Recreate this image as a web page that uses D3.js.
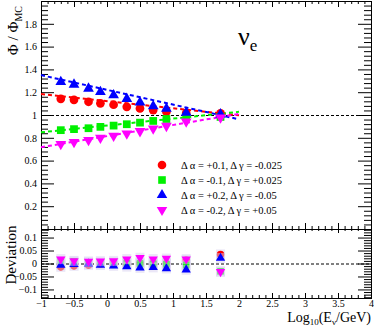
<!DOCTYPE html>
<html><head><meta charset="utf-8">
<script src="https://cdn.jsdelivr.net/npm/d3@7"></script>
<style>
html,body{margin:0;padding:0;background:#fff;}
svg{display:block;font-family:"Liberation Serif","DejaVu Serif",serif;}
</style></head>
<body><svg id="c" width="374" height="327"></svg>
<script>
// ---------- data ----------
const energies = [-0.7,-0.5,-0.28,-0.1,0.1,0.3,0.5,0.7,0.9,1.2,1.72];
const seriesNames = ["Δ α = +0.1, Δ γ = -0.025","Δ α = -0.1, Δ γ = +0.025","Δ α = +0.2, Δ γ = -0.05","Δ α = -0.2, Δ γ = +0.05"];
const seriesColors = ["#ff0000","#00f000","#0000ff","#ff00ff"];
const seriesSymbols = ["circle","square","triangle","invtriangle"];
const ratioRed     = [1.142,1.133,1.116,1.102,1.090,1.072,1.058,1.043,1.029,1.017,1.015];
const ratioGreen   = [0.867,0.876,0.884,0.896,0.907,0.919,0.933,0.948,0.965,0.980,0.983];
const ratioBlue    = [1.290,1.267,1.232,1.203,1.174,1.142,1.110,1.078,1.055,1.020,1.006];
const ratioMagenta = [0.745,0.763,0.780,0.800,0.817,0.837,0.858,0.881,0.904,0.942,0.977];
const devRed     = [-0.013,-0.009,-0.006,-0.003,-0.002,0.000,0.001,0.002,0.001,0.013,0.035];
const devGreen   = [0.010,0.008,0.004,0.004,0.004,0.001,0.000,-0.001,-0.003,-0.006,-0.030];
const devBlue    = [-0.006,-0.003,-0.001,-0.006,-0.009,-0.012,-0.017,-0.015,-0.019,-0.024,0.021];
const devMagenta = [0.017,0.010,0.008,0.009,0.010,0.017,0.022,0.017,0.019,0.017,-0.032];
const fitX = [-1, 2];
const fitRed = [1.184, 0.997];
const fitGreen = [0.848, 1.028];
const fitBlue = [1.350, 0.962];
const fitMagenta = [0.717, 1.010];
const xTicks = [-1,-0.5,0,0.5,1,1.5,2,2.5,3,3.5,4];
const yTicksUpper = [0.2,0.4,0.6,0.8,1,1.2,1.4,1.6,1.8];
const yTicksLower = [-0.1,-0.05,0,0.05,0.1];

const ratios = [ratioRed, ratioGreen, ratioBlue, ratioMagenta];
const devs = [devRed, devGreen, devBlue, devMagenta];
const fits = [fitRed, fitGreen, fitBlue, fitMagenta];

// ---------- layout ----------
const L = 41, R = 371, T = 1, M = 229, B = 298;
const svg = d3.select("#c");
const x = d3.scaleLinear([-1,4],[L,R]);
const yU = d3.scaleLinear([0,2],[M,T]);
const yL = d3.scaleLinear([-0.133,0.133],[B,M]);

const minor = (lo,hi,step,majors) => d3.range(Math.round(lo/step), Math.round(hi/step)+1).map(i=>+(i*step).toFixed(4)).filter(v=>v>=lo-1e-9&&v<=hi+1e-9&&!majors.some(m=>Math.abs(m-v)<1e-6));
const xMinor = minor(-1,4,0.1,xTicks);
const yUMinor = minor(0.02,1.99,0.04,yTicksUpper.concat([0,2]));
const yLMinor = minor(-0.13,0.13,0.01,yTicksLower);

function styleAxis(g){ g.select(".domain").remove(); g.selectAll("line").attr("stroke","#000"); g.selectAll("text").attr("fill","#000").style("font-family","'Liberation Serif',serif").style("font-size","10px"); }

// upper left
svg.append("g").attr("transform",`translate(${L},0)`).call(d3.axisLeft(yU).tickValues(yTicksUpper).tickSize(-13).tickPadding(4).tickFormat(d3.format("~g"))).call(styleAxis);
svg.append("g").attr("transform",`translate(${L},0)`).call(d3.axisLeft(yU).tickValues(yUMinor).tickSize(-7).tickFormat("")).call(styleAxis);
// upper right
svg.append("g").attr("transform",`translate(${R},0)`).call(d3.axisRight(yU).tickValues(yTicksUpper).tickSize(-13).tickFormat("")).call(styleAxis);
svg.append("g").attr("transform",`translate(${R},0)`).call(d3.axisRight(yU).tickValues(yUMinor).tickSize(-7).tickFormat("")).call(styleAxis);
// upper top
svg.append("g").attr("transform",`translate(0,${T})`).call(d3.axisTop(x).tickValues(xTicks).tickSize(-6).tickFormat("")).call(styleAxis);
svg.append("g").attr("transform",`translate(0,${T})`).call(d3.axisTop(x).tickValues(xMinor).tickSize(-3).tickFormat("")).call(styleAxis);
// upper bottom (ticks up)
svg.append("g").attr("transform",`translate(0,${M})`).call(d3.axisBottom(x).tickValues(xTicks).tickSize(-6).tickFormat("")).call(styleAxis);
svg.append("g").attr("transform",`translate(0,${M})`).call(d3.axisBottom(x).tickValues(xMinor).tickSize(-3).tickFormat("")).call(styleAxis);
// lower top (ticks down)
svg.append("g").attr("transform",`translate(0,${M})`).call(d3.axisTop(x).tickValues(xTicks).tickSize(-4).tickFormat("")).call(styleAxis);
svg.append("g").attr("transform",`translate(0,${M})`).call(d3.axisTop(x).tickValues(xMinor).tickSize(-2).tickFormat("")).call(styleAxis);
// lower left
svg.append("g").attr("transform",`translate(${L},0)`).call(d3.axisLeft(yL).tickValues(yTicksLower).tickSize(-13).tickPadding(4).tickFormat(d3.format("~g"))).call(styleAxis);
svg.append("g").attr("transform",`translate(${L},0)`).call(d3.axisLeft(yL).tickValues(yLMinor).tickSize(-7).tickFormat("")).call(styleAxis);
// lower right
svg.append("g").attr("transform",`translate(${R},0)`).call(d3.axisRight(yL).tickValues(yTicksLower).tickSize(-13).tickFormat("")).call(styleAxis);
svg.append("g").attr("transform",`translate(${R},0)`).call(d3.axisRight(yL).tickValues(yLMinor).tickSize(-7).tickFormat("")).call(styleAxis);
// lower bottom
svg.append("g").attr("transform",`translate(0,${B})`).call(d3.axisBottom(x).tickValues(xTicks).tickSize(-5).tickPadding(2).tickFormat(d3.format("~g"))).call(styleAxis);
svg.append("g").attr("transform",`translate(0,${B})`).call(d3.axisBottom(x).tickValues(xMinor).tickSize(-3).tickFormat("")).call(styleAxis);

// frames
svg.append("rect").attr("x",L+0.5).attr("y",T+0.5).attr("width",R-L).attr("height",M-T).attr("fill","none").attr("stroke","#000");
svg.append("rect").attr("x",L+0.5).attr("y",M+0.5).attr("width",R-L).attr("height",B-M).attr("fill","none").attr("stroke","#000");

// reference dashed lines
svg.append("line").attr("x1",x(-1)).attr("x2",x(4)).attr("y1",yU(1)+0.5).attr("y2",yU(1)+0.5).attr("stroke","#000").attr("stroke-dasharray","3,2");
svg.append("line").attr("x1",x(-1)).attr("x2",x(4)).attr("y1",yL(0)+0.5).attr("y2",yL(0)+0.5).attr("stroke","#000").attr("stroke-dasharray","3,2");

// fit lines
fits.forEach((f,i)=>{
  svg.append("path").attr("d",d3.line().x((d,j)=>x(fitX[j])).y(d=>yU(d))(f))
    .attr("fill","none").attr("stroke",seriesColors[i]).attr("stroke-width",2).attr("stroke-dasharray","4,3");
});

function sym(kind,size){
  if(kind==="circle") return d3.symbol(d3.symbolCircle,size)();
  if(kind==="square") return d3.symbol(d3.symbolSquare,size)();
  return d3.symbol(d3.symbolTriangle,size)();
}
function drawMarker(g,kind,color,cx,cy,size){
  const p = g.append("path").attr("d",sym(kind,size)).attr("fill",color);
  let tr = `translate(${cx},${cy})`;
  if(kind==="invtriangle") tr += " rotate(180)";
  p.attr("transform",tr);
}

// upper markers
ratios.forEach((arr,i)=>{
  const g = svg.append("g");
  arr.forEach((v,j)=>drawMarker(g,seriesSymbols[i],seriesColors[i],x(energies[j]),yU(v),seriesSymbols[i]==="circle"?60:(seriesSymbols[i]==="square"?60:50)));
});
// lower markers with faint halos
devs.forEach((arr,i)=>{
  const g = svg.append("g");
  arr.forEach((v,j)=>{
    g.append("rect").attr("x",x(energies[j])-4.5).attr("y",yL(v)-5).attr("width",9).attr("height",10).attr("fill","#d8d0f0").attr("opacity",0.5);
  });
  arr.forEach((v,j)=>drawMarker(g,seriesSymbols[i],seriesColors[i],x(energies[j]),yL(v),seriesSymbols[i]==="circle"?44:(seriesSymbols[i]==="square"?44:38)));
});

// legend
const legY = [165,180,195,210];
seriesNames.forEach((n,i)=>{
  const g = svg.append("g");
  drawMarker(g,seriesSymbols[i],seriesColors[i],162,legY[i],seriesSymbols[i]==="circle"?58:(seriesSymbols[i]==="square"?58:48));
  svg.append("text").attr("x",181).attr("y",legY[i]+3.5).attr("font-size","10.5px").attr("fill","#000").text(n);
});

// nu_e label
const nu = svg.append("text").attr("x",238).attr("y",45).attr("fill","#000");
nu.append("tspan").attr("font-size","26px").text("ν");
nu.append("tspan").attr("font-size","17px").attr("dy",6).text("e");

// y titles
const yt = svg.append("text").attr("transform","translate(18,6) rotate(-90)").attr("text-anchor","end").attr("fill","#000").attr("font-size","15px");
yt.append("tspan").text("Φ / Φ");
yt.append("tspan").attr("font-size","10px").attr("dy",4).text("MC");
svg.append("text").attr("transform","translate(16,255) rotate(-90)").attr("text-anchor","middle").attr("fill","#000").attr("font-size","15px").text("Deviation");

// x title
const xt = svg.append("text").attr("x",371).attr("y",322).attr("text-anchor","end").attr("fill","#000").attr("font-size","14px");
xt.append("tspan").text("Log");
xt.append("tspan").attr("font-size","9px").attr("dy",3).text("10");
xt.append("tspan").attr("dy",-3).text("(E");
xt.append("tspan").attr("font-size","9px").attr("dy",3).text("ν");
xt.append("tspan").attr("dy",-3).text("/GeV)");
</script></body></html>
